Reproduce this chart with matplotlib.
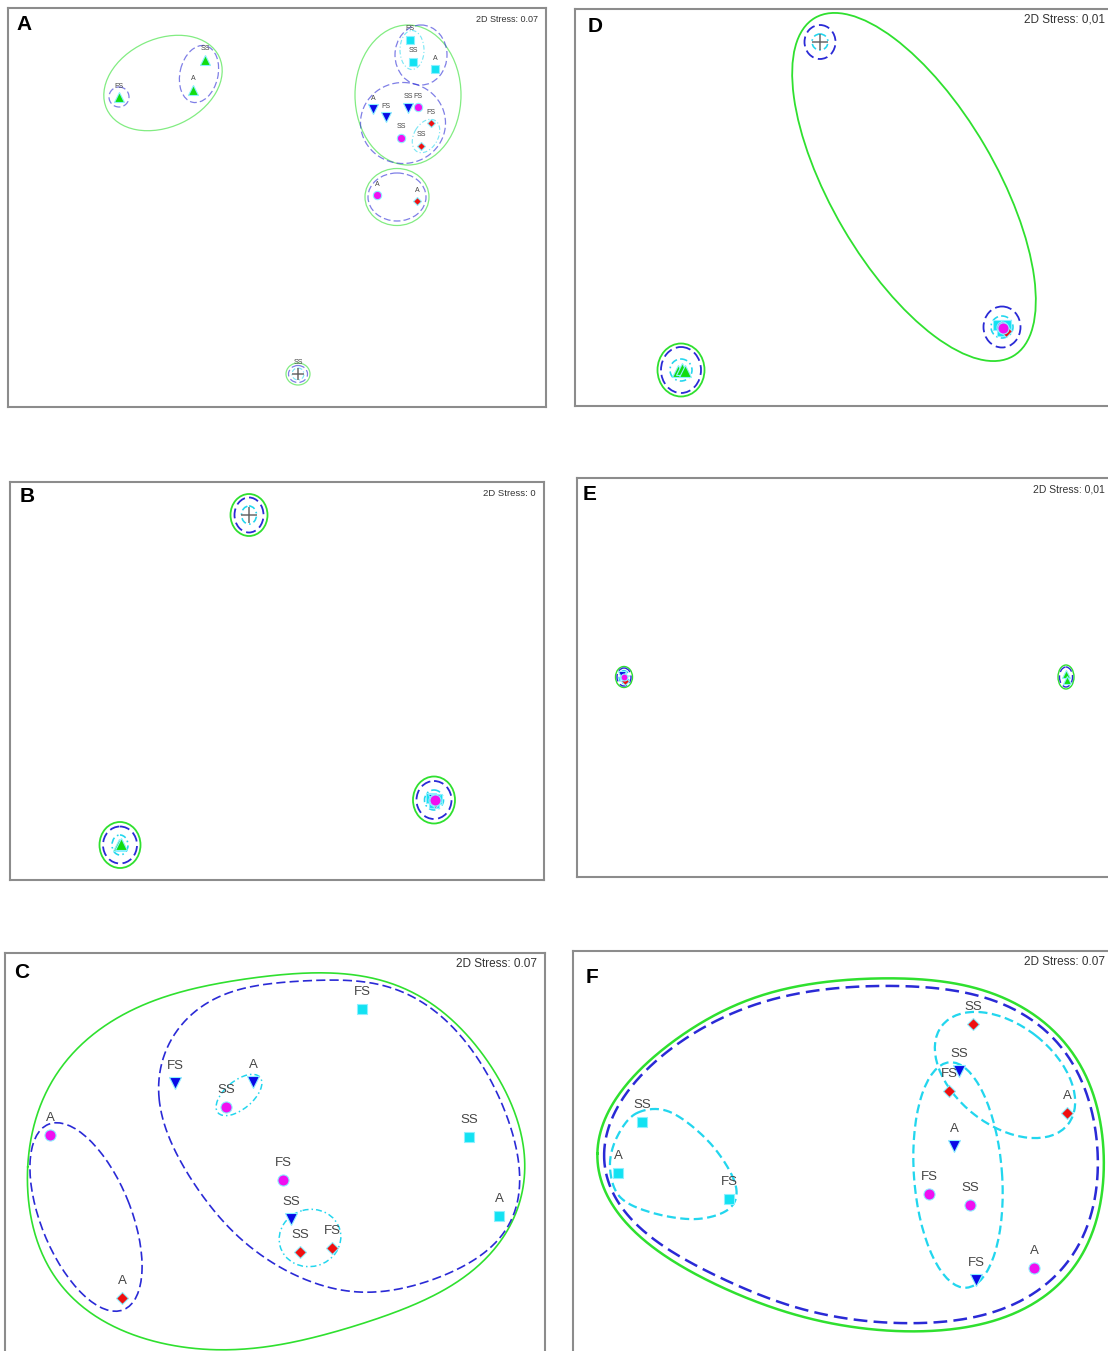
import numpy as np
import matplotlib
matplotlib.use('Agg')
import matplotlib.pyplot as plt
from matplotlib.patches import Ellipse

plt.rcParams['font.family'] = ['Liberation Sans', 'DejaVu Sans']

# ordination coordinates are kept in panel units (x right, y down)

# ---------- A ----------
a_grp = ['green', 'green', 'green', 'cyan', 'cyan', 'cyan', 'blue', 'blue', 'blue',
         'magenta', 'magenta', 'magenta', 'red', 'red', 'red', 'cross']
a_lab = ['FS', 'A', 'SS', 'FS', 'SS', 'A', 'A', 'FS', 'SS',
         'FS', 'SS', 'A', 'FS', 'SS', 'A', 'SS']
a_x = [111, 185, 197, 402, 405, 427, 365, 378, 400, 410, 393, 369, 423, 413, 409, 290]
a_y = [89, 82, 52, 32, 54, 61, 101, 109, 100, 99, 130, 187, 115, 138, 193, 366]
# cluster envelopes: (similarity level, cx, cy, width, height, angle)
a_env = [('g', 155, 75, 124, 88, -25), ('b', 191, 66, 58, 38, -77), ('b', 111, 89, 20, 20, 0),
         ('g', 400, 87, 106, 140, 0), ('b', 413, 47, 52, 60, 0), ('c', 404, 42, 24, 39, 0),
         ('b', 395, 115, 85, 81, 0), ('c', 418, 128, 36, 24, -60),
         ('g', 389, 189, 64, 57, 0), ('b', 389, 189, 58, 48, 0),
         ('g', 290, 366, 24, 22, 0), ('b', 290, 366, 19, 17, 0), ('c', 290, 366, 12, 12, 0)]

# ---------- B ----------
b_grp = ['cyan', 'cyan', 'cyan', 'red', 'blue', 'magenta', 'magenta', 'green', 'green', 'cross']
b_x = [421, 427, 424, 425, 424, 424, 425, 109, 111, 239]
b_y = [316, 317, 321, 320, 318, 318, 318, 363, 362, 33]
b_env = [('g', 239, 33, 37, 42, 0), ('b', 239, 33, 29, 35, 0), ('c', 239, 33, 15, 18, 0),
         ('g', 424, 318, 42, 47, 0), ('b', 424, 318, 35, 38, 0), ('c', 424, 318, 19, 20, 0),
         ('g', 110, 363, 41, 46, 0), ('b', 110, 363, 34, 37, 0), ('c', 110, 363, 16, 20, 0)]

# ---------- C ----------
c_grp = ['magenta', 'red', 'blue', 'magenta', 'blue', 'magenta', 'blue', 'red', 'red',
         'cyan', 'cyan', 'cyan']
c_lab = ['A', 'A', 'FS', 'SS', 'A', 'FS', 'SS', 'SS', 'FS', 'FS', 'SS', 'A']
c_x = [45, 117, 170, 221, 248, 278, 286, 295, 327, 357, 464, 494]
c_y = [182, 345, 130, 154, 129, 227, 266, 299, 295, 56, 184, 263]
c_env = [('b', 81, 264, 200, 90, 68), ('c', 234, 142, 55, 28, -40), ('c', 305, 285, 62, 57, -15)]
c_outer_green = [(20, 214), (28, 177), (62, 107), (128, 57), (195, 34), (272, 22), (308, 20),
                 (365, 25), (432, 54), (482, 107), (512, 170), (519, 237), (493, 290),
                 (451, 330), (346, 374), (220, 397), (118, 377), (48, 324), (27, 247)]
c_outer_blue = [(153, 147), (155, 124), (168, 84), (195, 54), (235, 37), (272, 30), (308, 27),
                (365, 30), (432, 60), (482, 120), (512, 204), (513, 250), (469, 307),
                (416, 330), (346, 339), (276, 314), (205, 254), (175, 205)]

# ---------- D ----------
d_grp = ['cyan', 'cyan', 'cyan', 'red', 'magenta', 'magenta', 'green', 'green', 'green', 'cross']
d_x = [423, 431, 427, 431, 427, 428, 103, 107, 110, 245]
d_y = [316, 316, 322, 322, 318, 319, 362, 360, 362, 33]
d_env = [('b', 245, 33, 31, 34, 0), ('c', 245, 33, 16, 16, 0),
         ('b', 427, 318, 37, 41, 0), ('c', 427, 318, 22, 22, 0),
         ('g', 106, 361, 47, 53, 0), ('b', 106, 361, 40, 46, 0), ('c', 106, 361, 22, 22, 0),
         ('g', 339, 178, 392, 164, 59.6)]

# ---------- E ----------
e_grp = ['cyan', 'red', 'blue', 'magenta', 'green', 'green']
e_x = [46, 48, 45, 47, 489, 490]
e_y = [198, 203, 197, 199, 196, 202]
e_env = [('g', 47, 199, 17, 21, 0), ('b', 47, 199, 14, 18, 0), ('c', 47, 199, 10, 13, 0),
         ('g', 489, 199, 16, 24, 0), ('b', 489, 199, 13, 20, 0)]

# ---------- F ----------
f_grp = ['cyan', 'cyan', 'cyan', 'red', 'blue', 'red', 'red', 'blue', 'magenta', 'magenta',
         'blue', 'magenta']
f_lab = ['SS', 'A', 'FS', 'SS', 'SS', 'FS', 'A', 'A', 'FS', 'SS', 'FS', 'A']
f_x = [69, 45, 156, 400, 386, 376, 494, 381, 356, 397, 403, 461]
f_y = [171, 222, 248, 73, 120, 140, 162, 195, 243, 254, 329, 317]
f_env = [('c', 432, 124, 160, 100, 38), ('c', 385, 224, 226, 88, 85.7)]
f_outer_green = [(23, 202), (32, 164), (64, 126), (130, 69), (197, 42), (264, 31), (324, 26),
                 (407, 39), (464, 66), (504, 109), (527, 166), (530, 216), (526, 262),
                 (495, 322), (444, 362), (342, 380), (206, 359), (104, 312), (67, 286),
                 (36, 246)]
f_outer_blue = [(29, 206), (44, 158), (70, 124), (130, 76), (197, 49), (264, 38), (324, 34),
                (407, 46), (464, 72), (499, 113), (521, 166), (524, 216), (519, 262),
                (489, 317), (440, 354), (342, 372), (206, 351), (106, 305), (71, 280),
                (42, 244)]
f_cyan_left = [(64, 162), (97, 161), (137, 192), (162, 232), (157, 257), (124, 268),
               (80, 262), (47, 246), (37, 216), (44, 186)]

MARK = {'green': ('^', '#11dd11', 1.15), 'blue': ('v', '#0a0ae6', 1.15),
        'cyan': ('s', '#12e2f2', 0.9), 'red': ('D', '#f01010', 0.75),
        'magenta': ('o', '#f010f0', 1.0), 'cross': ('+', '#6a6a6a', 1.5)}
ORDER = ['green', 'cyan', 'red', 'blue', 'magenta', 'cross']
LEVEL = {'g': '#2fe02f', 'b': '#2a2ad6', 'c': '#22d6ee'}

W, H = 1108, 1351
fig = plt.figure(figsize=(W / 100, H / 100), dpi=100)
fig.patch.set_facecolor('white')


def catmull(pts, n=40):
    p = np.asarray(pts, float)
    k = len(p)
    t = np.linspace(0, 1, n, endpoint=False)[:, None]
    segs = []
    for i in range(k):
        p0, p1, p2, p3 = p[i - 1], p[i], p[(i + 1) % k], p[(i + 2) % k]
        segs.append(0.5 * (2 * p1 + (-p0 + p2) * t + (2 * p0 - 5 * p1 + 4 * p2 - p3) * t ** 2
                           + (-p0 + 3 * p1 - 3 * p2 + p3) * t ** 3))
    c = np.vstack(segs)
    return np.vstack([c, c[:1]])


def fourier_loop(pts, order=6, n=600):
    # smooth closed outline: low-order Fourier fit on chord-length parameter
    p = np.asarray(pts, float)
    d = np.hypot(*np.diff(np.vstack([p, p[:1]]), axis=0).T)
    s = np.concatenate([[0], np.cumsum(d)[:-1]]) / d.sum() * 2 * np.pi

    def basis(u):
        cols = [np.ones_like(u)]
        for k in range(1, order + 1):
            cols += [np.cos(k * u), np.sin(k * u)]
        return np.column_stack(cols)

    coef, *_ = np.linalg.lstsq(basis(s), p, rcond=None)
    u = np.linspace(0, 2 * np.pi, n)
    return basis(u) @ coef


def line_style(level, lw, cyan_dash):
    if level == 'g':
        return dict(color=LEVEL['g'], linestyle='-', linewidth=lw)
    if level == 'b':
        return dict(color=LEVEL['b'], linestyle=(0, (5.5, 2.5)), linewidth=lw)
    return dict(color=LEVEL['c'], linestyle=cyan_dash, linewidth=lw * 0.9)


def panel(box, letter, stress, x, y, grp, lab=None, env=(), outlines=(), ms=8, lw=1.2,
          fs=9.5, dy=17, alpha=1.0, letter_xy=(17, 18), stress_fs=8.5, hide=(),
          cyan_dash=(0, (4, 2, 1, 2))):
    l, t, r, b = box
    ax = fig.add_axes([l / W, 1 - b / H, (r - l) / W, (b - t) / H])
    ax.set_xlim(0, r - l)
    ax.set_ylim(b - t, 0)
    ax.set_xticks([])
    ax.set_yticks([])
    for side, sp in ax.spines.items():
        sp.set_color('#8c8c8c')
        sp.set_linewidth(1.5)
        if side in hide:
            sp.set_visible(False)

    for lev, pts in outlines:
        c = fourier_loop(pts) if len(pts) > 14 else catmull(pts)
        ax.plot(c[:, 0], c[:, 1], alpha=alpha, **line_style(lev, lw, cyan_dash))
    for lev, cx, cy, w, h, ang in env:
        ax.add_patch(Ellipse((cx, cy), w, h, angle=ang, fill=False, alpha=alpha,
                             **line_style(lev, lw, cyan_dash)))

    x = np.asarray(x, float)
    y = np.asarray(y, float)
    grp = np.asarray(grp)
    for g in ORDER:
        m = grp == g
        if not m.any():
            continue
        mk, col, sc = MARK[g]
        if g == 'cross':
            ax.plot(x[m], y[m], mk, color=col, ms=ms * sc, mew=1.1, zorder=5)
        else:
            ax.plot(x[m], y[m], mk, color=col, ms=ms * sc, mec='#8cf0ff', mew=0.8,
                    zorder=4, linestyle='none')
    if lab is not None:
        for xi, yi, s in zip(x, y, lab):
            ax.text(xi, yi - dy, s, ha='center', va='center', fontsize=fs,
                    color='#454545', zorder=6)

    ax.text(letter_xy[0], letter_xy[1], letter, ha='center', va='center',
            fontsize=15, fontweight='bold', color='black')
    ax.text(r - l - (8 if 'right' not in hide else 7), 11, stress, ha='right', va='center',
            fontsize=stress_fs, color='#333333')
    return ax


panel((8, 8, 546, 407), 'A', '2D Stress: 0.07', a_x, a_y, a_grp, a_lab, a_env,
      ms=6, lw=0.9, fs=5, dy=11, alpha=0.6, letter_xy=(16, 17), stress_fs=6.5)
panel((575, 9, 1112, 406), 'D', '2D Stress: 0,01', d_x, d_y, d_grp, None, d_env,
      ms=8, lw=1.3, letter_xy=(20, 18), stress_fs=8.5, hide=('right',))
panel((10, 482, 544, 880), 'B', '2D Stress: 0', b_x, b_y, b_grp, None, b_env,
      ms=8, lw=1.3, letter_xy=(17, 15), stress_fs=6.8)
panel((577, 478, 1112, 877), 'E', '2D Stress: 0,01', e_x, e_y, e_grp, None, e_env,
      ms=5, lw=1.0, letter_xy=(13, 16), stress_fs=7.5, hide=('right',))
panel((5, 953, 545, 1355), 'C', '2D Stress: 0.07', c_x, c_y, c_grp, c_lab, c_env,
      outlines=[('g', c_outer_green), ('b', c_outer_blue)],
      ms=8, lw=1.2, letter_xy=(17, 19), stress_fs=8.5, hide=('bottom',))
panel((573, 951, 1112, 1355), 'F', '2D Stress: 0.07', f_x, f_y, f_grp, f_lab, f_env,
      outlines=[('g', f_outer_green), ('b', f_outer_blue), ('c', f_cyan_left)],
      ms=8, lw=1.8, letter_xy=(19, 26), stress_fs=8.5, hide=('right', 'bottom'),
      cyan_dash=(0, (4, 2)))

fig.savefig('out.png', dpi=100, facecolor='white')
